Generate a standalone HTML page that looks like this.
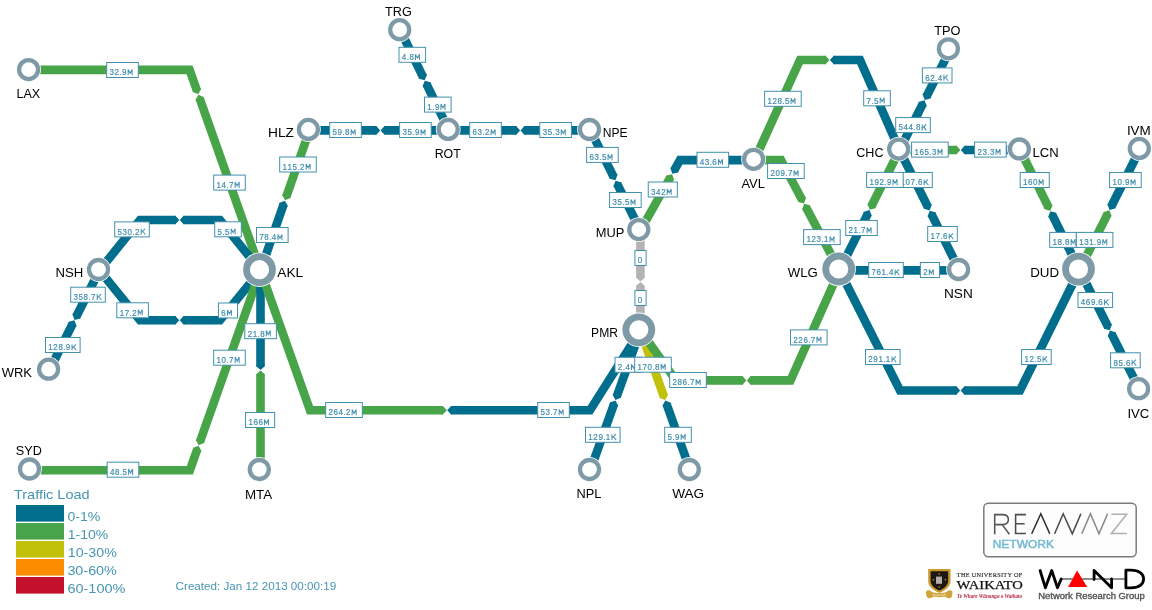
<!DOCTYPE html>
<html><head><meta charset="utf-8"><style>
html,body{margin:0;padding:0;background:#fff;}
body{width:1152px;height:610px;overflow:hidden;}
svg{display:block;font-family:"Liberation Sans",sans-serif;will-change:transform;}
.lb rect{fill:#fff;stroke:#4190ad;stroke-width:1}
.lb text{fill:#3f8dab;stroke:#3f8dab;stroke-width:0.2;font-size:8.9px}
.lb path.g{fill:none;stroke:#4a93b0;stroke-width:1.05;stroke-linejoin:miter;stroke-miterlimit:3}
</style></head><body>
<svg width="1152" height="610" viewBox="0 0 1152 610">
<defs><filter id="soft" x="-10%" y="-10%" width="120%" height="120%"><feGaussianBlur stdDeviation="0.3"/></filter></defs>
<rect width="1152" height="610" fill="#fff"/>
<g fill="none" stroke-width="8.6" stroke-linejoin="miter" stroke-miterlimit="10" stroke-linecap="butt">
<polyline points="29.5,69.9 189.6,69.9 196.94,90.66" stroke="#47a448"/>
<polygon points="192.55,91.15 192.88,92.1 198.23,94.31 200.99,89.23 200.66,88.29" fill="#47a448"/>
<polyline points="260.5,270.5 199.65,98.34" stroke="#47a448"/>
<polygon points="204.04,97.85 203.71,96.91 198.36,94.69 195.6,99.77 195.93,100.71" fill="#47a448"/>
<polyline points="400.5,30.5 422.97,76.79" stroke="#006e8c"/>
<polygon points="418.67,77.77 419.1,78.67 424.66,80.27 426.84,74.91 426.4,74.01" fill="#006e8c"/>
<polyline points="449,130.4 426.53,84.11" stroke="#006e8c"/>
<polygon points="430.83,83.13 430.4,82.23 424.84,80.63 422.66,85.99 423.1,86.89" fill="#006e8c"/>
<polyline points="309.5,130.4 376.33,130.4" stroke="#006e8c"/>
<polygon points="375.33,134.7 376.33,134.7 380.2,130.4 376.33,126.1 375.33,126.1" fill="#006e8c"/>
<polyline points="449,130.4 384.47,130.4" stroke="#006e8c"/>
<polygon points="385.47,126.1 384.47,126.1 380.6,130.4 384.47,134.7 385.47,134.7" fill="#006e8c"/>
<polyline points="449,130.4 516.23,130.4" stroke="#006e8c"/>
<polygon points="515.23,134.7 516.23,134.7 520.1,130.4 516.23,126.1 515.23,126.1" fill="#006e8c"/>
<polyline points="590.5,130.4 524.37,130.4" stroke="#006e8c"/>
<polygon points="525.37,126.1 524.37,126.1 520.5,130.4 524.37,134.7 525.37,134.7" fill="#006e8c"/>
<polyline points="309.5,130.4 286.34,196.61" stroke="#47a448"/>
<polygon points="282.61,194.24 282.28,195.19 285.07,200.26 290.4,198.03 290.73,197.08" fill="#47a448"/>
<polyline points="260.5,270.5 283.66,204.29" stroke="#006e8c"/>
<polygon points="287.39,206.66 287.72,205.71 284.93,200.64 279.6,202.87 279.27,203.82" fill="#006e8c"/>
<polyline points="590.5,130.4 613.63,176.81" stroke="#006e8c"/>
<polygon points="609.34,177.83 609.79,178.73 615.36,180.27 617.48,174.89 617.04,173.99" fill="#006e8c"/>
<polyline points="640.4,230.5 617.27,184.09" stroke="#006e8c"/>
<polygon points="621.56,183.07 621.11,182.17 615.54,180.63 613.42,186.01 613.86,186.91" fill="#006e8c"/>
<polyline points="99.5,270.3 76.32,316.51" stroke="#006e8c"/>
<polygon points="72.93,313.69 72.48,314.58 74.59,319.97 80.17,318.44 80.62,317.55" fill="#006e8c"/>
<polyline points="49.5,370 72.68,323.79" stroke="#006e8c"/>
<polygon points="76.07,326.61 76.52,325.72 74.41,320.33 68.83,321.86 68.38,322.75" fill="#006e8c"/>
<polyline points="99.5,270.3 140,220 175.43,220" stroke="#006e8c"/>
<polygon points="174.43,224.3 175.43,224.3 179.3,220 175.43,215.7 174.43,215.7" fill="#006e8c"/>
<polyline points="260.5,270.5 220,220 183.57,220" stroke="#006e8c"/>
<polygon points="184.57,215.7 183.57,215.7 179.7,220 183.57,224.3 184.57,224.3" fill="#006e8c"/>
<polyline points="99.5,270.3 140,320.2 175.43,320.2" stroke="#006e8c"/>
<polygon points="174.43,324.5 175.43,324.5 179.3,320.2 175.43,315.9 174.43,315.9" fill="#006e8c"/>
<polyline points="260.5,270.5 220,320.2 183.57,320.2" stroke="#006e8c"/>
<polygon points="184.57,315.9 183.57,315.9 179.7,320.2 183.57,324.5 184.57,324.5" fill="#006e8c"/>
<polyline points="30.5,470.3 189.9,470.2 197.29,449.29" stroke="#47a448"/>
<polygon points="201.01,451.67 201.35,450.72 198.58,445.64 193.24,447.86 192.9,448.8" fill="#47a448"/>
<polyline points="260.5,270.5 200.01,441.62" stroke="#47a448"/>
<polygon points="196.28,439.24 195.95,440.18 198.72,445.26 204.06,443.05 204.39,442.11" fill="#47a448"/>
<polyline points="260.5,270.5 260.5,366.23" stroke="#006e8c"/>
<polygon points="256.2,365.23 256.2,366.23 260.5,370.1 264.8,366.23 264.8,365.23" fill="#006e8c"/>
<polyline points="260.5,470 260.5,374.37" stroke="#47a448"/>
<polygon points="264.8,375.37 264.8,374.37 260.5,370.5 256.2,374.37 256.2,375.37" fill="#47a448"/>
<polyline points="260.5,270.5 310,410.3 442.93,410.3" stroke="#47a448"/>
<polygon points="441.93,414.6 442.93,414.6 446.8,410.3 442.93,406 441.93,406" fill="#47a448"/>
<polyline points="640.4,330.5 590,410.3 451.07,410.3" stroke="#006e8c"/>
<polygon points="452.07,406 451.07,406 447.2,410.3 451.07,414.6 452.07,414.6" fill="#006e8c"/>
<polyline points="640.4,230.5 640.4,277.63" stroke="#b3b3b3"/>
<polygon points="636.1,276.63 636.1,277.63 640.4,281.5 644.7,277.63 644.7,276.63" fill="#b3b3b3"/>
<polyline points="640.4,330.5 640.4,285.77" stroke="#b3b3b3"/>
<polygon points="644.7,286.77 644.7,285.77 640.4,281.9 636.1,285.77 636.1,286.77" fill="#b3b3b3"/>
<polyline points="640.4,330.5 616.79,396.4" stroke="#006e8c"/>
<polygon points="613.08,394.01 612.74,394.95 615.49,400.05 620.84,397.85 621.18,396.91" fill="#006e8c"/>
<polyline points="590.5,469.8 614.05,404.07" stroke="#006e8c"/>
<polygon points="617.76,406.46 618.09,405.52 615.35,400.42 610,402.62 609.66,403.56" fill="#006e8c"/>
<polyline points="640.4,330.5 663.88,396.45" stroke="#c1c10c"/>
<polygon points="659.5,396.95 659.83,397.89 665.18,400.09 667.93,395.01 667.6,394.06" fill="#c1c10c"/>
<polyline points="690,469.8 666.61,404.12" stroke="#006e8c"/>
<polygon points="671,403.62 670.66,402.67 665.31,400.47 662.56,405.56 662.9,406.5" fill="#006e8c"/>
<polyline points="640.4,230.5 670.21,177.51" stroke="#47a448"/>
<polygon points="673.47,180.49 673.96,179.61 672.11,174.13 666.46,175.4 665.97,176.27" fill="#47a448"/>
<polyline points="754.5,160.1 680,160.1 674.2,170.41" stroke="#006e8c"/>
<polygon points="670.94,167.43 670.45,168.3 672.3,173.78 677.95,172.52 678.44,171.65" fill="#006e8c"/>
<polyline points="754.5,160.1 781,160.1 802.15,199.98" stroke="#47a448"/>
<polygon points="797.89,201.12 798.35,202 803.97,203.4 805.95,197.97 805.48,197.09" fill="#47a448"/>
<polyline points="839.5,270.4 805.97,207.18" stroke="#47a448"/>
<polygon points="810.23,206.04 809.77,205.16 804.15,203.76 802.17,209.19 802.64,210.07" fill="#47a448"/>
<polyline points="754.5,160.1 800,60 825.63,60" stroke="#47a448"/>
<polygon points="824.63,64.3 825.63,64.3 829.5,60 825.63,55.7 824.63,55.7" fill="#47a448"/>
<polyline points="899.5,150 860,60 833.77,60" stroke="#006e8c"/>
<polygon points="834.77,55.7 833.77,55.7 829.9,60 833.77,64.3 834.77,64.3" fill="#006e8c"/>
<polyline points="899.5,150 922.83,103.81" stroke="#006e8c"/>
<polygon points="926.21,106.64 926.66,105.75 924.57,100.36 918.99,101.87 918.54,102.76" fill="#006e8c"/>
<polyline points="950.2,49.6 926.49,96.54" stroke="#006e8c"/>
<polygon points="923.11,93.71 922.66,94.61 924.75,100 930.33,98.48 930.78,97.59" fill="#006e8c"/>
<polyline points="899.5,150 956.53,150" stroke="#47a448"/>
<polygon points="955.53,154.3 956.53,154.3 960.4,150 956.53,145.7 955.53,145.7" fill="#47a448"/>
<polyline points="1020.2,150 964.67,150" stroke="#006e8c"/>
<polygon points="965.67,145.7 964.67,145.7 960.8,150 964.67,154.3 965.67,154.3" fill="#006e8c"/>
<polyline points="899.5,150 927.86,206.92" stroke="#006e8c"/>
<polygon points="923.57,207.94 924.02,208.83 929.59,210.38 931.71,205 931.27,204.1" fill="#006e8c"/>
<polyline points="959.5,270.4 931.49,214.2" stroke="#006e8c"/>
<polygon points="935.79,213.18 935.34,212.28 929.77,210.74 927.65,216.12 928.09,217.01" fill="#006e8c"/>
<polyline points="899.5,150 871.45,206.28" stroke="#47a448"/>
<polygon points="868.05,203.46 867.61,204.36 869.73,209.74 875.3,208.2 875.75,207.3" fill="#47a448"/>
<polyline points="839.5,270.4 867.82,213.56" stroke="#006e8c"/>
<polygon points="871.23,216.38 871.67,215.48 869.55,210.1 863.98,211.65 863.53,212.54" fill="#006e8c"/>
<polyline points="839.5,270.4 920.93,270.4" stroke="#006e8c"/>
<polygon points="919.93,274.7 920.93,274.7 924.8,270.4 920.93,266.1 919.93,266.1" fill="#006e8c"/>
<polyline points="959.5,270.4 929.07,270.4" stroke="#006e8c"/>
<polygon points="930.07,266.1 929.07,266.1 925.2,270.4 929.07,274.7 930.07,274.7" fill="#006e8c"/>
<polyline points="839.5,270.4 790.5,380.4 750.67,380.4" stroke="#47a448"/>
<polygon points="751.67,376.1 750.67,376.1 746.8,380.4 750.67,384.7 751.67,384.7" fill="#47a448"/>
<polyline points="640.4,330.5 676,380.4 742.53,380.4" stroke="#47a448"/>
<polygon points="741.53,384.7 742.53,384.7 746.4,380.4 742.53,376.1 741.53,376.1" fill="#47a448"/>
<polyline points="839.5,270.4 900,390.5 956.33,390.5" stroke="#006e8c"/>
<polygon points="955.33,394.8 956.33,394.8 960.2,390.5 956.33,386.2 955.33,386.2" fill="#006e8c"/>
<polyline points="1079.5,270 1020,390.5 964.47,390.5" stroke="#006e8c"/>
<polygon points="965.47,386.2 964.47,386.2 960.6,390.5 964.47,394.8 965.47,394.8" fill="#006e8c"/>
<polyline points="1020.2,150 1048.55,207.37" stroke="#47a448"/>
<polygon points="1044.25,208.38 1044.7,209.28 1050.27,210.84 1052.41,205.47 1051.96,204.57" fill="#47a448"/>
<polyline points="1079.5,270 1052.16,214.67" stroke="#006e8c"/>
<polygon points="1056.46,213.66 1056.01,212.76 1050.44,211.2 1048.3,216.57 1048.75,217.47" fill="#006e8c"/>
<polyline points="1140,149.3 1111.3,206.55" stroke="#006e8c"/>
<polygon points="1107.91,203.73 1107.46,204.62 1109.57,210.01 1115.15,208.48 1115.6,207.58" fill="#006e8c"/>
<polyline points="1079.5,270 1107.66,213.83" stroke="#47a448"/>
<polygon points="1111.05,216.65 1111.5,215.75 1109.39,210.37 1103.81,211.9 1103.36,212.79" fill="#47a448"/>
<polyline points="1079.5,270 1108.02,326.79" stroke="#006e8c"/>
<polygon points="1103.72,327.83 1104.17,328.72 1109.75,330.25 1111.86,324.86 1111.41,323.97" fill="#006e8c"/>
<polyline points="1139.5,389.5 1111.67,334.07" stroke="#006e8c"/>
<polygon points="1115.96,333.03 1115.51,332.14 1109.93,330.61 1107.82,336 1108.27,336.89" fill="#006e8c"/>
</g>
<g class="lb">
<rect x="106.7" y="62.5" width="31.6" height="15"/>
<text transform="translate(106.2,75.3) scale(0.9,1)" x="3.76 9.31 14.67 17.64" y="0">32.9</text>
<path class="g" d="M128.15,75.3 V69.4 L130.15,73.3 L132.15,69.4 V75.3"/>
<rect x="213.7" y="175.1" width="31.6" height="15"/>
<text transform="translate(213.2,187.9) scale(0.9,1)" x="3.76 9.31 14.67 17.64" y="0">14.7</text>
<path class="g" d="M235.15,187.9 V182 L237.15,185.9 L239.15,182 V187.9"/>
<rect x="399" y="47.3" width="26.6" height="15"/>
<text transform="translate(398.5,60.1) scale(0.9,1)" x="3.76 9.11 12.09" y="0">4.8</text>
<path class="g" d="M415.45,60.1 V54.2 L417.45,58.1 L419.45,54.2 V60.1"/>
<rect x="424.5" y="97.1" width="26.6" height="15"/>
<text transform="translate(424,109.9) scale(0.9,1)" x="3.76 9.11 12.09" y="0">1.9</text>
<path class="g" d="M440.95,109.9 V104 L442.95,107.9 L444.95,104 V109.9"/>
<rect x="329.7" y="122.5" width="31.6" height="15"/>
<text transform="translate(329.2,135.3) scale(0.9,1)" x="3.76 9.31 14.67 17.64" y="0">59.8</text>
<path class="g" d="M351.15,135.3 V129.4 L353.15,133.3 L355.15,129.4 V135.3"/>
<rect x="399.6" y="122.5" width="31.6" height="15"/>
<text transform="translate(399.1,135.3) scale(0.9,1)" x="3.76 9.31 14.67 17.64" y="0">35.9</text>
<path class="g" d="M421.05,135.3 V129.4 L423.05,133.3 L425.05,129.4 V135.3"/>
<rect x="469.7" y="122.5" width="31.6" height="15"/>
<text transform="translate(469.2,135.3) scale(0.9,1)" x="3.76 9.31 14.67 17.64" y="0">63.2</text>
<path class="g" d="M491.15,135.3 V129.4 L493.15,133.3 L495.15,129.4 V135.3"/>
<rect x="539.8" y="122.5" width="31.6" height="15"/>
<text transform="translate(539.3,135.3) scale(0.9,1)" x="3.76 9.31 14.67 17.64" y="0">35.3</text>
<path class="g" d="M561.25,135.3 V129.4 L563.25,133.3 L565.25,129.4 V135.3"/>
<rect x="279.7" y="157" width="36.6" height="15"/>
<text transform="translate(279.2,169.8) scale(0.9,1)" x="3.76 9.31 14.87 20.22 23.2" y="0">115.2</text>
<path class="g" d="M306.15,169.8 V163.9 L308.15,167.8 L310.15,163.9 V169.8"/>
<rect x="256.5" y="227.5" width="31.6" height="15"/>
<text transform="translate(256,240.3) scale(0.9,1)" x="3.76 9.31 14.67 17.64" y="0">78.4</text>
<path class="g" d="M277.95,240.3 V234.4 L279.95,238.3 L281.95,234.4 V240.3"/>
<rect x="586.6" y="147.4" width="31.6" height="15"/>
<text transform="translate(586.1,160.2) scale(0.9,1)" x="3.76 9.31 14.67 17.64" y="0">63.5</text>
<path class="g" d="M608.05,160.2 V154.3 L610.05,158.2 L612.05,154.3 V160.2"/>
<rect x="609.6" y="192.5" width="31.6" height="15"/>
<text transform="translate(609.1,205.3) scale(0.9,1)" x="3.76 9.31 14.67 17.64" y="0">35.5</text>
<path class="g" d="M631.05,205.3 V199.4 L633.05,203.3 L635.05,199.4 V205.3"/>
<rect x="70.7" y="287.2" width="34.6" height="15"/>
<text transform="translate(70.2,300) scale(0.9,1)" x="3.76 9.31 14.87 20.22 23.2" y="0">358.7</text>
<path class="g" d="M97.2,300 V294.1 M101.1,294.1 L97.4,297.7 M98.7,296.5 L101.4,300"/>
<rect x="45.5" y="337.5" width="34.6" height="15"/>
<text transform="translate(45,350.3) scale(0.9,1)" x="3.76 9.31 14.87 20.22 23.2" y="0">128.9</text>
<path class="g" d="M72,350.3 V344.4 M75.9,344.4 L72.2,348 M73.5,346.8 L76.2,350.3"/>
<rect x="114.7" y="221.9" width="34.6" height="15"/>
<text transform="translate(114.2,234.7) scale(0.9,1)" x="3.76 9.31 14.87 20.22 23.2" y="0">530.2</text>
<path class="g" d="M141.2,234.7 V228.8 M145.1,228.8 L141.4,232.4 M142.7,231.2 L145.4,234.7"/>
<rect x="214.7" y="221.8" width="26.6" height="15"/>
<text transform="translate(214.2,234.6) scale(0.9,1)" x="3.76 9.11 12.09" y="0">5.5</text>
<path class="g" d="M231.15,234.6 V228.7 L233.15,232.6 L235.15,228.7 V234.6"/>
<rect x="116.8" y="302.8" width="31.6" height="15"/>
<text transform="translate(116.3,315.6) scale(0.9,1)" x="3.76 9.31 14.67 17.64" y="0">17.2</text>
<path class="g" d="M138.25,315.6 V309.7 L140.25,313.6 L142.25,309.7 V315.6"/>
<rect x="218.45" y="303" width="19.1" height="15"/>
<text transform="translate(217.95,315.8) scale(0.9,1)" x="3.76" y="0">6</text>
<path class="g" d="M227.4,315.8 V309.9 L229.4,313.8 L231.4,309.9 V315.8"/>
<rect x="107.2" y="462.2" width="31.6" height="15"/>
<text transform="translate(106.7,475) scale(0.9,1)" x="3.76 9.31 14.67 17.64" y="0">48.5</text>
<path class="g" d="M128.65,475 V469.1 L130.65,473 L132.65,469.1 V475"/>
<rect x="213.7" y="350.2" width="31.6" height="15"/>
<text transform="translate(213.2,363) scale(0.9,1)" x="3.76 9.31 14.67 17.64" y="0">10.7</text>
<path class="g" d="M235.15,363 V357.1 L237.15,361 L239.15,357.1 V363"/>
<rect x="244.8" y="323.7" width="31.6" height="15"/>
<text transform="translate(244.3,336.5) scale(0.9,1)" x="3.76 9.31 14.67 17.64" y="0">21.8</text>
<path class="g" d="M266.25,336.5 V330.6 L268.25,334.5 L270.25,330.6 V336.5"/>
<rect x="245.55" y="412.5" width="29.1" height="15"/>
<text transform="translate(245.05,425.3) scale(0.9,1)" x="3.76 9.31 14.87" y="0">166</text>
<path class="g" d="M264.5,425.3 V419.4 L266.5,423.3 L268.5,419.4 V425.3"/>
<rect x="325.7" y="402.5" width="36.6" height="15"/>
<text transform="translate(325.2,415.3) scale(0.9,1)" x="3.76 9.31 14.87 20.22 23.2" y="0">264.2</text>
<path class="g" d="M352.15,415.3 V409.4 L354.15,413.3 L356.15,409.4 V415.3"/>
<rect x="537.7" y="402.5" width="31.6" height="15"/>
<text transform="translate(537.2,415.3) scale(0.9,1)" x="3.76 9.31 14.67 17.64" y="0">53.7</text>
<path class="g" d="M559.15,415.3 V409.4 L561.15,413.3 L563.15,409.4 V415.3"/>
<rect x="634.9" y="250.5" width="11.2" height="15"/>
<text transform="translate(634.4,263.3) scale(0.9,1)" x="3.76" y="0">0</text>
<rect x="634.9" y="290.5" width="11.2" height="15"/>
<text transform="translate(634.4,303.3) scale(0.9,1)" x="3.76" y="0">0</text>
<rect x="615" y="357.3" width="26.6" height="15"/>
<text transform="translate(614.5,370.1) scale(0.9,1)" x="3.76 9.11 12.09" y="0">2.4</text>
<path class="g" d="M631.45,370.1 V364.2 L633.45,368.1 L635.45,364.2 V370.1"/>
<rect x="585.5" y="427.3" width="34.6" height="15"/>
<text transform="translate(585,440.1) scale(0.9,1)" x="3.76 9.31 14.87 20.22 23.2" y="0">129.1</text>
<path class="g" d="M612,440.1 V434.2 M615.9,434.2 L612.2,437.8 M613.5,436.6 L616.2,440.1"/>
<rect x="634.7" y="357.2" width="36.6" height="15"/>
<text transform="translate(634.2,370) scale(0.9,1)" x="3.76 9.31 14.87 20.22 23.2" y="0">170.8</text>
<path class="g" d="M661.15,370 V364.1 L663.15,368 L665.15,364.1 V370"/>
<rect x="664.7" y="427.3" width="26.6" height="15"/>
<text transform="translate(664.2,440.1) scale(0.9,1)" x="3.76 9.11 12.09" y="0">5.9</text>
<path class="g" d="M681.15,440.1 V434.2 L683.15,438.1 L685.15,434.2 V440.1"/>
<rect x="648.25" y="182" width="29.1" height="15"/>
<text transform="translate(647.75,194.8) scale(0.9,1)" x="3.76 9.31 14.87" y="0">342</text>
<path class="g" d="M667.2,194.8 V188.9 L669.2,192.8 L671.2,188.9 V194.8"/>
<rect x="697" y="152.3" width="31.6" height="15"/>
<text transform="translate(696.5,165.1) scale(0.9,1)" x="3.76 9.31 14.67 17.64" y="0">43.6</text>
<path class="g" d="M718.45,165.1 V159.2 L720.45,163.1 L722.45,159.2 V165.1"/>
<rect x="767.6" y="163.5" width="36.6" height="15"/>
<text transform="translate(767.1,176.3) scale(0.9,1)" x="3.76 9.31 14.87 20.22 23.2" y="0">209.7</text>
<path class="g" d="M794.05,176.3 V170.4 L796.05,174.3 L798.05,170.4 V176.3"/>
<rect x="803.6" y="229.6" width="36.6" height="15"/>
<text transform="translate(803.1,242.4) scale(0.9,1)" x="3.76 9.31 14.87 20.22 23.2" y="0">123.1</text>
<path class="g" d="M830.05,242.4 V236.5 L832.05,240.4 L834.05,236.5 V242.4"/>
<rect x="764.6" y="91.3" width="36.6" height="15"/>
<text transform="translate(764.1,104.1) scale(0.9,1)" x="3.76 9.31 14.87 20.22 23.2" y="0">128.5</text>
<path class="g" d="M791.05,104.1 V98.2 L793.05,102.1 L795.05,98.2 V104.1"/>
<rect x="863.7" y="90.8" width="26.6" height="15"/>
<text transform="translate(863.2,103.6) scale(0.9,1)" x="3.76 9.11 12.09" y="0">7.5</text>
<path class="g" d="M880.15,103.6 V97.7 L882.15,101.6 L884.15,97.7 V103.6"/>
<rect x="895.7" y="117.6" width="34.6" height="15"/>
<text transform="translate(895.2,130.4) scale(0.9,1)" x="3.76 9.31 14.87 20.22 23.2" y="0">544.8</text>
<path class="g" d="M922.2,130.4 V124.5 M926.1,124.5 L922.4,128.1 M923.7,126.9 L926.4,130.4"/>
<rect x="922.4" y="67.9" width="29.6" height="15"/>
<text transform="translate(921.9,80.7) scale(0.9,1)" x="3.76 9.31 14.67 17.64" y="0">62.4</text>
<path class="g" d="M943.9,80.7 V74.8 M947.8,74.8 L944.1,78.4 M945.4,77.2 L948.1,80.7"/>
<rect x="911.6" y="142.1" width="36.6" height="15"/>
<text transform="translate(911.1,154.9) scale(0.9,1)" x="3.76 9.31 14.87 20.22 23.2" y="0">165.3</text>
<path class="g" d="M938.05,154.9 V149 L940.05,152.9 L942.05,149 V154.9"/>
<rect x="974.6" y="142.1" width="31.6" height="15"/>
<text transform="translate(974.1,154.9) scale(0.9,1)" x="3.76 9.31 14.67 17.64" y="0">23.3</text>
<path class="g" d="M996.05,154.9 V149 L998.05,152.9 L1000.05,149 V154.9"/>
<rect x="897.7" y="172.5" width="34.6" height="15"/>
<text transform="translate(897.2,185.3) scale(0.9,1)" x="3.76 9.31 14.87 20.22 23.2" y="0">107.6</text>
<path class="g" d="M924.2,185.3 V179.4 M928.1,179.4 L924.4,183 M925.7,181.8 L928.4,185.3"/>
<rect x="927.7" y="226.5" width="29.6" height="15"/>
<text transform="translate(927.2,239.3) scale(0.9,1)" x="3.76 9.31 14.67 17.64" y="0">17.6</text>
<path class="g" d="M949.2,239.3 V233.4 M953.1,233.4 L949.4,237 M950.7,235.8 L953.4,239.3"/>
<rect x="866.6" y="172.4" width="36.6" height="15"/>
<text transform="translate(866.1,185.2) scale(0.9,1)" x="3.76 9.31 14.87 20.22 23.2" y="0">192.9</text>
<path class="g" d="M893.05,185.2 V179.3 L895.05,183.2 L897.05,179.3 V185.2"/>
<rect x="845.7" y="220.5" width="31.6" height="15"/>
<text transform="translate(845.2,233.3) scale(0.9,1)" x="3.76 9.31 14.67 17.64" y="0">21.7</text>
<path class="g" d="M867.15,233.3 V227.4 L869.15,231.3 L871.15,227.4 V233.3"/>
<rect x="868.7" y="262.5" width="34.6" height="15"/>
<text transform="translate(868.2,275.3) scale(0.9,1)" x="3.76 9.31 14.87 20.22 23.2" y="0">761.4</text>
<path class="g" d="M895.2,275.3 V269.4 M899.1,269.4 L895.4,273 M896.7,271.8 L899.4,275.3"/>
<rect x="920.35" y="262.5" width="19.1" height="15"/>
<text transform="translate(919.85,275.3) scale(0.9,1)" x="3.76" y="0">2</text>
<path class="g" d="M929.3,275.3 V269.4 L931.3,273.3 L933.3,269.4 V275.3"/>
<rect x="790.5" y="329.9" width="36.6" height="15"/>
<text transform="translate(790,342.7) scale(0.9,1)" x="3.76 9.31 14.87 20.22 23.2" y="0">226.7</text>
<path class="g" d="M816.95,342.7 V336.8 L818.95,340.7 L820.95,336.8 V342.7"/>
<rect x="669.7" y="372.5" width="36.6" height="15"/>
<text transform="translate(669.2,385.3) scale(0.9,1)" x="3.76 9.31 14.87 20.22 23.2" y="0">286.7</text>
<path class="g" d="M696.15,385.3 V379.4 L698.15,383.3 L700.15,379.4 V385.3"/>
<rect x="865.5" y="349.5" width="34.6" height="15"/>
<text transform="translate(865,362.3) scale(0.9,1)" x="3.76 9.31 14.87 20.22 23.2" y="0">291.1</text>
<path class="g" d="M892,362.3 V356.4 M895.9,356.4 L892.2,360 M893.5,358.8 L896.2,362.3"/>
<rect x="1021.6" y="349.5" width="29.6" height="15"/>
<text transform="translate(1021.1,362.3) scale(0.9,1)" x="3.76 9.31 14.67 17.64" y="0">12.5</text>
<path class="g" d="M1043.1,362.3 V356.4 M1047,356.4 L1043.3,360 M1044.6,358.8 L1047.3,362.3"/>
<rect x="1020.15" y="172.5" width="29.1" height="15"/>
<text transform="translate(1019.65,185.3) scale(0.9,1)" x="3.76 9.31 14.87" y="0">160</text>
<path class="g" d="M1039.1,185.3 V179.4 L1041.1,183.3 L1043.1,179.4 V185.3"/>
<rect x="1049.7" y="232.4" width="26.7" height="15"/>
<text transform="translate(1049.2,245.2) scale(0.9,1)" x="3.76 9.31 14.67 17.64" y="0">18.8</text>
<path class="g" d="M1071.15,245.2 V239.3 L1073.15,243.2 L1075.15,239.3 V245.2"/>
<rect x="1109.6" y="172.5" width="31.6" height="15"/>
<text transform="translate(1109.1,185.3) scale(0.9,1)" x="3.76 9.31 14.67 17.64" y="0">10.9</text>
<path class="g" d="M1131.05,185.3 V179.4 L1133.05,183.3 L1135.05,179.4 V185.3"/>
<rect x="1076.3" y="232.4" width="36.6" height="15"/>
<text transform="translate(1075.8,245.2) scale(0.9,1)" x="3.76 9.31 14.87 20.22 23.2" y="0">131.9</text>
<path class="g" d="M1102.75,245.2 V239.3 L1104.75,243.2 L1106.75,239.3 V245.2"/>
<rect x="1078" y="292.5" width="34.6" height="15"/>
<text transform="translate(1077.5,305.3) scale(0.9,1)" x="3.76 9.31 14.87 20.22 23.2" y="0">469.6</text>
<path class="g" d="M1104.5,305.3 V299.4 M1108.4,299.4 L1104.7,303 M1106,301.8 L1108.7,305.3"/>
<rect x="1110.6" y="352.8" width="29.6" height="15"/>
<text transform="translate(1110.1,365.6) scale(0.9,1)" x="3.76 9.31 14.67 17.64" y="0">85.6</text>
<path class="g" d="M1132.1,365.6 V359.7 M1136,359.7 L1132.3,363.3 M1133.6,362.1 L1136.3,365.6"/>
</g>
<g fill="#fff" stroke="#7f9aa7" filter="url(#soft)">
<circle cx="28.6" cy="69.6" r="12.4" stroke="#fff" stroke-width="0"/><circle cx="28.6" cy="69.6" r="9.5" stroke-width="4.3"/>
<circle cx="399.7" cy="29.7" r="12.4" stroke="#fff" stroke-width="0"/><circle cx="399.7" cy="29.7" r="9.5" stroke-width="4.3"/>
<circle cx="308.4" cy="129.4" r="12.4" stroke="#fff" stroke-width="0"/><circle cx="308.4" cy="129.4" r="9.5" stroke-width="4.3"/>
<circle cx="448.2" cy="129.4" r="12.4" stroke="#fff" stroke-width="0"/><circle cx="448.2" cy="129.4" r="9.5" stroke-width="4.3"/>
<circle cx="589.5" cy="129.5" r="12.4" stroke="#fff" stroke-width="0"/><circle cx="589.5" cy="129.5" r="9.5" stroke-width="4.3"/>
<circle cx="259.5" cy="269.7" r="17.2" stroke="#fff" stroke-width="0"/><circle cx="259.5" cy="269.7" r="13" stroke-width="6.8"/>
<circle cx="98.5" cy="269.5" r="12.4" stroke="#fff" stroke-width="0"/><circle cx="98.5" cy="269.5" r="9.5" stroke-width="4.3"/>
<circle cx="48.6" cy="369.2" r="12.4" stroke="#fff" stroke-width="0"/><circle cx="48.6" cy="369.2" r="9.5" stroke-width="4.3"/>
<circle cx="29.5" cy="469" r="12.4" stroke="#fff" stroke-width="0"/><circle cx="29.5" cy="469" r="9.5" stroke-width="4.3"/>
<circle cx="259.3" cy="469.5" r="12.4" stroke="#fff" stroke-width="0"/><circle cx="259.3" cy="469.5" r="9.5" stroke-width="4.3"/>
<circle cx="638.8" cy="229.6" r="12.4" stroke="#fff" stroke-width="0"/><circle cx="638.8" cy="229.6" r="9.5" stroke-width="4.3"/>
<circle cx="638.8" cy="329.8" r="17.2" stroke="#fff" stroke-width="0"/><circle cx="638.8" cy="329.8" r="13" stroke-width="6.8"/>
<circle cx="589.5" cy="469.5" r="12.4" stroke="#fff" stroke-width="0"/><circle cx="589.5" cy="469.5" r="9.5" stroke-width="4.3"/>
<circle cx="689.3" cy="469.5" r="12.4" stroke="#fff" stroke-width="0"/><circle cx="689.3" cy="469.5" r="9.5" stroke-width="4.3"/>
<circle cx="753.6" cy="159.3" r="12.4" stroke="#fff" stroke-width="0"/><circle cx="753.6" cy="159.3" r="9.5" stroke-width="4.3"/>
<circle cx="948.4" cy="48.8" r="12.4" stroke="#fff" stroke-width="0"/><circle cx="948.4" cy="48.8" r="9.5" stroke-width="4.3"/>
<circle cx="898.7" cy="149.1" r="12.4" stroke="#fff" stroke-width="0"/><circle cx="898.7" cy="149.1" r="9.5" stroke-width="4.3"/>
<circle cx="1019.4" cy="149" r="12.4" stroke="#fff" stroke-width="0"/><circle cx="1019.4" cy="149" r="9.5" stroke-width="4.3"/>
<circle cx="838.7" cy="269" r="17.2" stroke="#fff" stroke-width="0"/><circle cx="838.7" cy="269" r="13" stroke-width="6.8"/>
<circle cx="958.6" cy="269.5" r="12.4" stroke="#fff" stroke-width="0"/><circle cx="958.6" cy="269.5" r="9.5" stroke-width="4.3"/>
<circle cx="1078.5" cy="269.1" r="17.2" stroke="#fff" stroke-width="0"/><circle cx="1078.5" cy="269.1" r="13" stroke-width="6.8"/>
<circle cx="1139.3" cy="148.4" r="12.4" stroke="#fff" stroke-width="0"/><circle cx="1139.3" cy="148.4" r="9.5" stroke-width="4.3"/>
<circle cx="1138.6" cy="388.7" r="12.4" stroke="#fff" stroke-width="0"/><circle cx="1138.6" cy="388.7" r="9.5" stroke-width="4.3"/>
</g>
<g font-size="12.5" fill="#000">
<text x="16.4" y="97.8" textLength="23.8" lengthAdjust="spacingAndGlyphs">LAX</text>
<text x="385.1" y="16.3" textLength="26.7" lengthAdjust="spacingAndGlyphs">TRG</text>
<text x="268" y="136.9" textLength="25.9" lengthAdjust="spacingAndGlyphs">HLZ</text>
<text x="434.7" y="157.7" textLength="26.1" lengthAdjust="spacingAndGlyphs">ROT</text>
<text x="602.7" y="136.7" textLength="24.8" lengthAdjust="spacingAndGlyphs">NPE</text>
<text x="55.6" y="277.1" textLength="27.8" lengthAdjust="spacingAndGlyphs">NSH</text>
<text x="1.7" y="377.4" textLength="30.3" lengthAdjust="spacingAndGlyphs">WRK</text>
<text x="15.8" y="455.2" textLength="26" lengthAdjust="spacingAndGlyphs">SYD</text>
<text x="244.9" y="498.5" textLength="27.3" lengthAdjust="spacingAndGlyphs">MTA</text>
<text x="277.3" y="276.9" textLength="25.9" lengthAdjust="spacingAndGlyphs">AKL</text>
<text x="595.8" y="237" textLength="28.6" lengthAdjust="spacingAndGlyphs">MUP</text>
<text x="591.1" y="337.3" textLength="26.9" lengthAdjust="spacingAndGlyphs">PMR</text>
<text x="576.5" y="498.2" textLength="24.9" lengthAdjust="spacingAndGlyphs">NPL</text>
<text x="672.2" y="498.2" textLength="32" lengthAdjust="spacingAndGlyphs">WAG</text>
<text x="741.4" y="188" textLength="23.5" lengthAdjust="spacingAndGlyphs">AVL</text>
<text x="787.8" y="277" textLength="30" lengthAdjust="spacingAndGlyphs">WLG</text>
<text x="856.3" y="157" textLength="27.2" lengthAdjust="spacingAndGlyphs">CHC</text>
<text x="1032.6" y="157" textLength="26.2" lengthAdjust="spacingAndGlyphs">LCN</text>
<text x="934.2" y="34.8" textLength="26.3" lengthAdjust="spacingAndGlyphs">TPO</text>
<text x="944" y="298.2" textLength="28.8" lengthAdjust="spacingAndGlyphs">NSN</text>
<text x="1030.2" y="277" textLength="29" lengthAdjust="spacingAndGlyphs">DUD</text>
<text x="1126.9" y="135.1" textLength="23.9" lengthAdjust="spacingAndGlyphs">IVM</text>
<text x="1127.4" y="418.2" textLength="21.9" lengthAdjust="spacingAndGlyphs">IVC</text>
</g>

<text x="14" y="499.2" font-size="13" fill="#4795b3" textLength="75.5" lengthAdjust="spacingAndGlyphs">Traffic Load</text>
<rect x="16" y="505" width="48" height="16.6" fill="#006e8c"/>
<rect x="16" y="523" width="48" height="16.6" fill="#47a448"/>
<rect x="16" y="541" width="48" height="16.6" fill="#c1c10c"/>
<rect x="16" y="559" width="48" height="16.6" fill="#ff8c00"/>
<rect x="16" y="577" width="48" height="16.6" fill="#c4102b"/>
<g font-size="12.6" fill="#4795b3">
<text x="67.4" y="520.7" textLength="33" lengthAdjust="spacingAndGlyphs">0-1%</text>
<text x="67.8" y="538.7" textLength="40.5" lengthAdjust="spacingAndGlyphs">1-10%</text>
<text x="67.8" y="556.7" textLength="49" lengthAdjust="spacingAndGlyphs">10-30%</text>
<text x="67.4" y="574.7" textLength="49.5" lengthAdjust="spacingAndGlyphs">30-60%</text>
<text x="67.4" y="592.7" textLength="58" lengthAdjust="spacingAndGlyphs">60-100%</text>
</g>
<text x="175.6" y="590" font-size="11" fill="#4795b3" textLength="160.6" lengthAdjust="spacingAndGlyphs">Created: Jan 12 2013 00:00:19</text>

<g id="reannz">
<rect x="983.8" y="503.2" width="152.4" height="53.6" rx="4.5" fill="#fdfdfd" stroke="#7b7b7b" stroke-width="1.5"/>
<g fill="none" stroke-width="1.55" stroke-linejoin="miter" stroke-linecap="butt">
<path d="M994.7,534.2 V514.6 H1002.5 C1006.6,514.6 1008.4,516.8 1008.4,519.6 C1008.4,522.5 1006.4,524.6 1002.5,524.6 H994.7 M1002.2,524.6 L1009.4,534.2" stroke="#555"/>
<path d="M1025.9,514.6 H1015.6 V533.5 H1025.9 M1015.6,523.8 H1024.6" stroke="#4d4d4d"/>
<path d="M1031.7,533.8 L1040.8,513.8 L1049.8,533.8" stroke="#2d2d2d"/>
<path d="M1054.6,533.8 L1063.2,513.8 L1072.3,533.8 L1080.9,513.8" stroke="#4a4a4a"/>
<path d="M1081.8,533.8 L1090.4,513.8 L1099,533.8 L1107.6,513.8" stroke="#8a8a8a"/>
<path d="M1111.4,514.3 H1126.7 L1111.4,533.5 H1127" stroke="#b0b0b0"/>
</g>
<text x="992.7" y="548.4" font-size="10.6" fill="#72b9d1" stroke="#72b9d1" stroke-width="0.45" textLength="61.3" lengthAdjust="spacingAndGlyphs">NETWORK</text>
</g>
<g id="waikato">
<path d="M928.2,569 H950.6 V581 C950.6,586.5 945.5,590.2 939.4,593 C933.3,590.2 928.2,586.5 928.2,581 Z" fill="#c99b2e"/>
<path d="M930.6,571.3 H948.2 V581 C948.2,585.3 944.2,588.3 939.4,590.6 C934.6,588.3 930.6,585.3 930.6,581 Z" fill="#1e1712"/>
<rect x="936" y="576.6" width="6" height="7.2" fill="#b5aeab"/>
<circle cx="939.2" cy="574" r="0.8" fill="#c99b2e"/><circle cx="939.2" cy="587" r="0.8" fill="#c99b2e"/>
<circle cx="933.3" cy="579.8" r="0.8" fill="#c99b2e"/><circle cx="945.4" cy="579.8" r="0.8" fill="#c99b2e"/>
<path d="M925.8,592 C927.5,589.5 930,590 932,592 C935,593.5 943.5,593.5 946.5,592 C948.5,590 951,589.5 952.6,592 L951.8,597 C950,599.5 947,598 945,596.6 C942,597.4 936.6,597.4 933.6,596.6 C931.6,598 928.6,599.5 926.8,597 Z" fill="#cfa43a"/>
<path d="M932.5,594.6 C935.5,595.4 943,595.4 946,594.6" stroke="#f0e5c0" stroke-width="0.9" fill="none"/>
<text x="956.8" y="576.9" font-family="Liberation Serif" font-size="6.2" fill="#2a2a2a" stroke="#2a2a2a" stroke-width="0.15" textLength="65.4" lengthAdjust="spacing">THE UNIVERSITY OF</text>
<text x="956.6" y="588.8" font-family="Liberation Serif" font-size="12.4" fill="#111" stroke="#111" stroke-width="0.25" textLength="66.2" lengthAdjust="spacingAndGlyphs">WAIKATO</text>
<text x="957" y="597.7" font-family="Liberation Serif" font-size="6.2" font-style="italic" font-weight="bold" fill="#b8243c" textLength="65" lengthAdjust="spacingAndGlyphs">Te Whare Wānanga o Waikato</text>
</g>
<g id="wand">
<path d="M1060.7,579 H1125.9" stroke="#000" stroke-width="0.9" fill="none"/>
<path d="M1068.1,586.9 L1077.1,570.4 L1087.2,586.9 Z" fill="#f00"/>
<g fill="none" stroke="#000" stroke-width="2.8" stroke-linecap="round" stroke-linejoin="round">
<path d="M1040.1,570.5 L1045.4,587.8 L1051.7,570.5 L1057.5,587.8 L1061.2,579"/>
<path d="M1094.1,579.5 V570.5 L1111.6,587.8 V579"/>
<path d="M1125.9,570.2 V587.8 M1125.9,570.2 H1131 C1139,570.2 1143.6,574 1143.6,579 C1143.6,584 1139,587.8 1131,587.8 H1125.9"/>
</g>
<text x="1038.2" y="598.5" font-size="8.2" fill="#505050" stroke="#505050" stroke-width="0.3" textLength="106.6" lengthAdjust="spacingAndGlyphs">Network Research Group</text>
</g>

</svg>
</body></html>
